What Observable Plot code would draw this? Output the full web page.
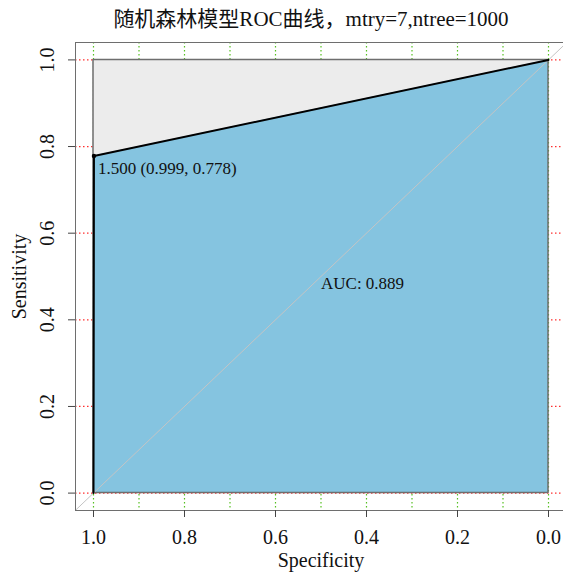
<!DOCTYPE html>
<html>
<head>
<meta charset="utf-8">
<script src="https://cdn.jsdelivr.net/npm/d3@7"></script>
<script src="https://cdn.jsdelivr.net/npm/@observablehq/plot@0.6"></script>
<style>
  html, body { margin: 0; padding: 0; background: #fff; overflow: hidden; }
  #title {
    width: 563px; height: 34px; box-sizing: border-box;
    padding-top: 5px; padding-left: 59px; line-height: 28px;
    text-align: center; white-space: nowrap;
    font-family: "Liberation Serif", "Noto Sans CJK SC", serif;
    font-size: 21px; color: #111;
  }
</style>
</head>
<body>
<div id="title">随机森林模型ROC曲线，mtry=7,ntree=1000</div>
<div id="chart"></div>
<script>
// ROC curve points (specificity, sensitivity)
const specificity = [1, 0.999, 0];
const sensitivity = [0, 0.778, 1];
// best threshold
const bestThreshold = 1.5;
const bestSpec = 0.999;
const bestSens = 0.778;
const aucValue = 0.889;
// perfect-classifier polygon
const maxSpec = [1, 0];
const maxSens = [1, 1];
// identity (chance) line endpoints
const diagSpec = [1.1, -0.1];
const diagSens = [-0.1, 1.1];
// ticks and grid
const xTicks = [1.0, 0.8, 0.6, 0.4, 0.2, 0.0];
const yTicks = [0.0, 0.2, 0.4, 0.6, 0.8, 1.0];
const xGrid = [1.0, 0.9, 0.8, 0.7, 0.6, 0.5, 0.4, 0.3, 0.2, 0.1, 0.0];
const yGrid = [0.0, 0.2, 0.4, 0.6, 0.8, 1.0];

const roc = specificity.map((s, i) => ({spec: s, sens: sensitivity[i]}));
const maxPoly = maxSpec.map((s, i) => ({spec: s, sens: maxSens[i]}));
const diag = diagSpec.map((s, i) => ({spec: s, sens: diagSens[i]}));
const best = [{spec: bestSpec, sens: bestSens,
  label: `${bestThreshold.toFixed(3)} (${bestSpec.toFixed(3)}, ${bestSens.toFixed(3)})`}];

const chart = Plot.plot({
  width: 563,
  height: 538,
  marginLeft: 75,
  marginRight: -3,
  marginTop: 8,
  marginBottom: 62,
  style: {fontFamily: "Liberation Serif, serif", fontSize: "20px", background: "#fff", color: "#111"},
  x: {domain: [1, 0], inset: 18},
  y: {domain: [0, 1], inset: 17.4},
  marks: [
    Plot.ruleX(xGrid, {x: d => d, stroke: "#55c020", strokeDasharray: "1.5,2.5", strokeWidth: 1.2}),
    Plot.ruleY(yGrid, {y: d => d, stroke: "#ff3030", strokeDasharray: "1.5,2.5", strokeWidth: 1.2}),
    Plot.areaY(maxPoly, {x: "spec", y: "sens", fill: "#ececec"}),
    Plot.areaY(roc, {x: "spec", y: "sens", fill: "#85c4e0"}),
    Plot.areaY(maxPoly, {x: "spec", y: "sens", fill: "none", stroke: "#6e6e6e", strokeWidth: 1.5}),
    Plot.line(diag, {x: "spec", y: "sens", stroke: "#c4c4c4", strokeWidth: 1, clip: true}),
    Plot.line(roc, {x: "spec", y: "sens", stroke: "#000", strokeWidth: 2}),
    Plot.dot(best, {x: "spec", y: "sens", r: 2.2, fill: "#000", stroke: "none"}),
    Plot.text(best, {x: "spec", y: "sens", text: "label", textAnchor: "start", lineAnchor: "middle", dx: 4, dy: 12, fontSize: 17, fill: "#111"}),
    Plot.text([`AUC: ${aucValue.toFixed(3)}`], {x: () => 0.5, y: () => 0.5, textAnchor: "start", lineAnchor: "top", fontSize: 17, fill: "#111"}),
    Plot.frame({stroke: "#6e6e6e", strokeWidth: 1}),
    Plot.axisX(xTicks, {tickSize: 7, tickFormat: () => "", label: null, stroke: "#444"}),
    Plot.axisY(yTicks, {tickSize: 7, tickFormat: () => "", label: null, stroke: "#444"}),
    Plot.text(xTicks, {x: d => d, text: d => d.toFixed(1), frameAnchor: "bottom", dy: 27, textAnchor: "middle", lineAnchor: "middle", fontSize: 20, fill: "#111"}),
    Plot.text(yTicks, {y: d => d, text: d => d.toFixed(1), frameAnchor: "left", dx: -28, rotate: -90, textAnchor: "middle", lineAnchor: "middle", fontSize: 20, fill: "#111"}),
    Plot.text(["Sensitivity"], {frameAnchor: "left", dx: -56, rotate: -90, textAnchor: "middle", lineAnchor: "middle", fontSize: 20, fill: "#111"}),
    Plot.text(["Specificity"], {frameAnchor: "bottom", dy: 50, textAnchor: "middle", lineAnchor: "middle", fontSize: 20, fill: "#111"})
  ]
});
document.getElementById("chart").appendChild(chart);
</script>
</body>
</html>
